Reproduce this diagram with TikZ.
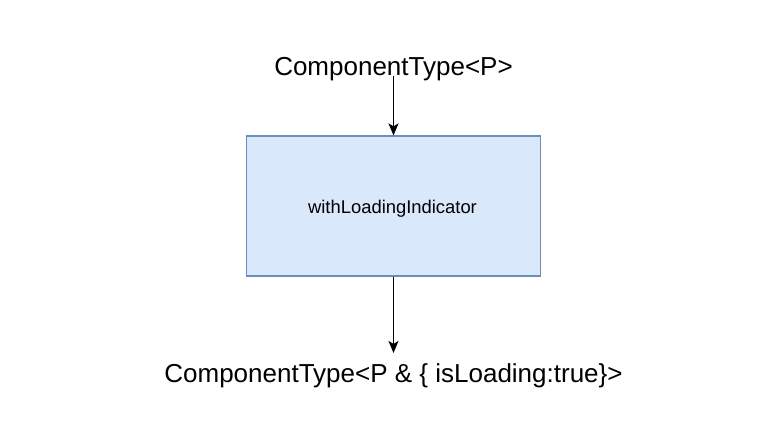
\documentclass[tikz,border=0pt]{standalone}
\usepackage{fontspec}
\setmainfont{Liberation Sans}
\usetikzlibrary{arrows.meta}
\begin{document}
\begin{tikzpicture}[x=1pt,y=1pt,
  lbl/.style={font=\fontsize{26}{30}\selectfont, inner sep=0pt, anchor=base},
  hocbox/.style={draw=boxblue, fill=boxfill, line width=1.2pt, minimum width=294pt, minimum height=140pt, font=\fontsize{18.4}{22}\selectfont},
  conn/.style={line width=1.4pt, -{Stealth[length=12pt,width=10pt,inset=3pt]}}]
\definecolor{boxblue}{HTML}{6C8EBF}
\definecolor{boxfill}{HTML}{DAE8FC}
\useasboundingbox (0,0) rectangle (782,-442);
\fill[white] (0,0) rectangle (782,-442);
\node[lbl] (top) at (393.5,-75) {ComponentType<P>};
\node[hocbox] (hoc) at (393.5,-206) {};
\node[font=\fontsize{18.4}{22}\selectfont, inner sep=0pt, anchor=base] (hoclbl) at (392.5,-213) {withLoadingIndicator};
\node[lbl] (bot) at (393.5,-382) {ComponentType<P \& \{ isLoading:true\}>};
\draw[conn] ([yshift=-1pt]top.base) -- (hoc.north);
\draw[conn, shorten >=10pt] (hoc.south) -- (bot.north);
\end{tikzpicture}
\end{document}
